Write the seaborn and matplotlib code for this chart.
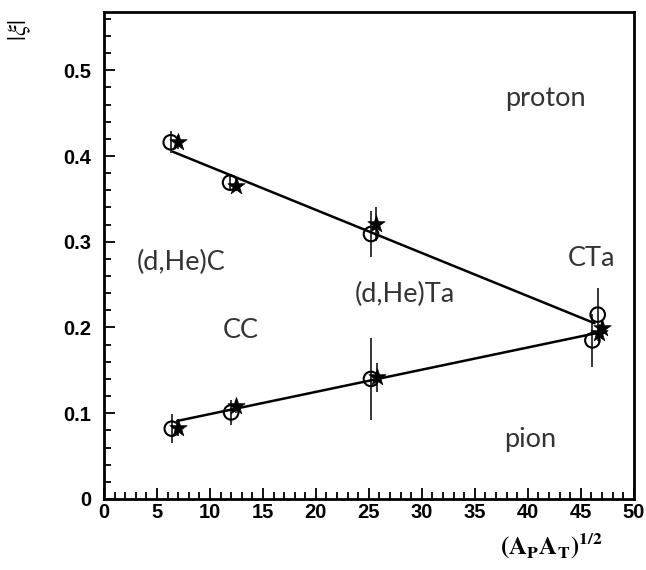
import matplotlib
matplotlib.use("Agg")
import matplotlib.pyplot as plt
from matplotlib.ticker import MultipleLocator
import seaborn as sns
import pandas as pd

# ---- data ----
proton_circle_x = [6.3, 11.9, 25.2, 46.6]
proton_circle_y = [0.416, 0.369, 0.309, 0.215]
proton_circle_err = [0.013, 0.010, 0.027, 0.031]

proton_star_x = [7.0, 12.5, 25.7, 47.0]
proton_star_y = [0.416, 0.365, 0.321, 0.199]
proton_star_err = [0.008, 0.006, 0.020, 0.010]

pion_circle_x = [6.4, 12.0, 25.2, 46.1]
pion_circle_y = [0.082, 0.101, 0.140, 0.185]
pion_circle_err = [0.017, 0.015, 0.048, 0.031]

pion_star_x = [7.0, 12.45, 25.75, 46.7]
pion_star_y = [0.083, 0.108, 0.142, 0.193]
pion_star_err = [0.010, 0.008, 0.017, 0.010]

proton_fit_x = [6.5, 46.3]
proton_fit_y = [0.405, 0.205]
pion_fit_x = [6.9, 46.3]
pion_fit_y = [0.091, 0.193]

labels = ["proton", "(d,He)C", "CC", "(d,He)Ta", "CTa", "pion"]
label_x = [41.7, 7.3, 12.9, 28.4, 46.0, 40.2]
label_y = [0.467, 0.276, 0.197, 0.238, 0.281, 0.069]

x_ticks = [0, 5, 10, 15, 20, 25, 30, 35, 40, 45, 50]
y_ticks = [0, 0.1, 0.2, 0.3, 0.4, 0.5]
y_tick_labels = ["0", "0.1", "0.2", "0.3", "0.4", "0.5"]

# ---- plotting ----
sns.set_style("ticks")
plt.rcParams["font.family"] = ["Liberation Sans", "DejaVu Sans"]
plt.rcParams["mathtext.fontset"] = "stix"

fig = plt.figure(figsize=(6.46, 5.70), dpi=100)
ax = fig.add_axes([0.161, 0.1246, 0.820, 0.8544])

fits = pd.DataFrame({
    "x": proton_fit_x + pion_fit_x,
    "y": proton_fit_y + pion_fit_y,
    "series": ["proton"] * 2 + ["pion"] * 2,
})
sns.lineplot(data=fits, x="x", y="y", units="series", estimator=None,
             color="black", linewidth=1.8, ax=ax, legend=False)

for xs, ys, es in [(proton_circle_x, proton_circle_y, proton_circle_err),
                   (proton_star_x, proton_star_y, proton_star_err),
                   (pion_circle_x, pion_circle_y, pion_circle_err),
                   (pion_star_x, pion_star_y, pion_star_err)]:
    ax.errorbar(xs, ys, yerr=es, fmt="none", ecolor="black",
                elinewidth=1.1, capsize=0, zorder=2)

circles = pd.DataFrame({"x": proton_circle_x + pion_circle_x,
                        "y": proton_circle_y + pion_circle_y})
stars = pd.DataFrame({"x": proton_star_x + pion_star_x,
                      "y": proton_star_y + pion_star_y})
sns.scatterplot(data=circles, x="x", y="y", marker="o", s=110,
                facecolor="none", edgecolor="black", linewidth=1.5,
                ax=ax, zorder=3)
sns.scatterplot(data=stars, x="x", y="y", marker="*", s=170,
                color="black", edgecolor="black", linewidth=0.5,
                ax=ax, zorder=4)

for t, lx, ly in zip(labels, label_x, label_y):
    ax.text(lx, ly, t, ha="center", va="center", fontsize=19.5,
            color="#333333", family=["Lato", "DejaVu Sans"],
            fontweight="normal")

ax.set_xlim(0, 50)
ax.set_ylim(0, 0.568)
ax.set_xticks(x_ticks)
ax.set_xticklabels([str(v) for v in x_ticks])
ax.set_yticks(y_ticks)
ax.set_yticklabels(y_tick_labels)
ax.xaxis.set_minor_locator(MultipleLocator(1))
ax.yaxis.set_minor_locator(MultipleLocator(0.02))
ax.tick_params(which="both", direction="in", top=False, right=False,
               width=1.3, color="black", labelcolor="black")
ax.tick_params(which="major", length=8, labelsize=14.5)
ax.tick_params(which="minor", length=5)
for lab in ax.get_xticklabels() + ax.get_yticklabels():
    lab.set_fontweight("bold")
ax.tick_params(axis="y", pad=9)
ax.tick_params(axis="x", pad=3)

for sp in ax.spines.values():
    sp.set_visible(True)
    sp.set_linewidth(2.0)
    sp.set_color("black")

ax.set_xlabel("")
ax.set_ylabel("")
fig.text(0.031, 0.947, r"$|\xi|$", rotation=90, fontsize=18,
         ha="center", va="center", color="black")
fig.text(0.853, 0.042, r"$\mathbf{(A_PA_T)^{1/2}}$", fontsize=18,
         ha="center", va="center", color="black")

fig.savefig("out.png", dpi=100)
